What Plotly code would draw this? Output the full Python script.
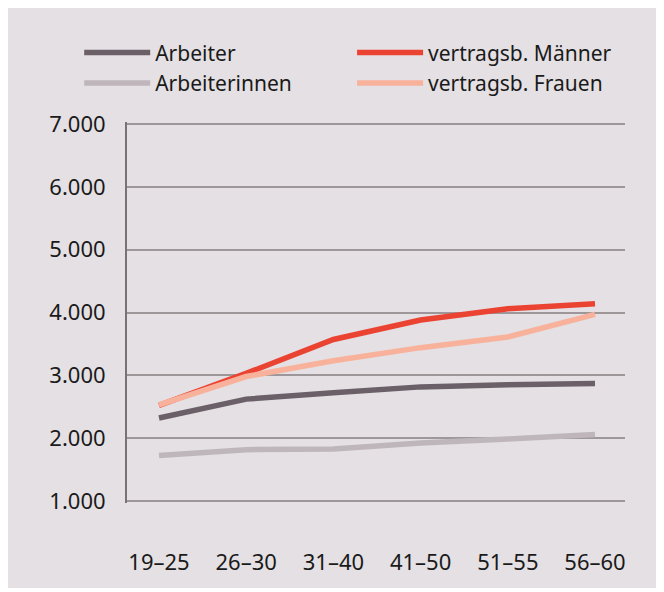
import plotly.graph_objects as go

age_groups = ["19–25", "26–30", "31–40", "41–50", "51–55", "56–60"]
arbeiter = [2320, 2620, 2720, 2815, 2850, 2870]
arbeiterinnen = [1720, 1815, 1825, 1920, 1985, 2055]
vb_maenner = [2520, 3030, 3570, 3880, 4060, 4140]
vb_frauen = [2530, 2980, 3230, 3440, 3610, 3970]
y_ticks = [1000, 2000, 3000, 4000, 5000, 6000, 7000]
y_labels = ["1.000", "2.000", "3.000", "4.000", "5.000", "6.000", "7.000"]

BG = "#e4e0e3"
FONT = "Noto Sans"
TXT = "#1a1a1a"

# (name, values, colour, legend, rank) in drawing order
series = [
    ("Arbeiterinnen", arbeiterinnen, "#bfb6bc", "legend", 2),
    ("Arbeiter", arbeiter, "#6b6068", "legend", 1),
    ("vertragsb. Männer", vb_maenner, "#ea4332", "legend2", 1),
    ("vertragsb. Frauen", vb_frauen, "#f8b29c", "legend2", 2),
]

fig = go.Figure()
for name, vals, col, leg, rank in series:
    fig.add_trace(go.Scatter(
        x=list(range(len(age_groups))), y=vals,
        mode="lines", name=name,
        line=dict(color=col, width=5.5),
        legend=leg, legendrank=rank,
    ))

legend_style = dict(
    orientation="v", y=1.235, xanchor="left", yanchor="top",
    itemwidth=66, traceorder="normal", tracegroupgap=0,
    font=dict(family=FONT, size=21, color=TXT),
    bgcolor="rgba(0,0,0,0)",
)

fig.update_layout(
    width=649, height=580,
    margin=dict(l=119, r=32, t=114, b=85, autoexpand=False),
    paper_bgcolor=BG, plot_bgcolor=BG,
    font=dict(family=FONT, size=22, color=TXT),
    showlegend=True,
    legend=dict(x=-0.096, **legend_style),
    legend2=dict(x=0.452, **legend_style),
)

fig.update_xaxes(
    range=[-0.367, 5.344],
    tickmode="array",
    tickvals=list(range(len(age_groups))),
    ticktext=age_groups,
    showgrid=False, zeroline=False, showline=False,
    ticks="", ticklabelstandoff=44,
    tickfont=dict(family=FONT, size=22, color=TXT),
)
# range padded a little so the 1.000 and 7.000 grid lines are not clipped
fig.update_yaxes(
    range=[965, 7035],
    tickmode="array", tickvals=y_ticks, ticktext=y_labels,
    showgrid=True, gridcolor="#9d979a", gridwidth=1.5,
    zeroline=False,
    showline=True, linecolor="#7a7075", linewidth=2,
    ticks="", ticklabelstandoff=15,
    tickfont=dict(family=FONT, size=22, color=TXT),
)

fig.write_html("out.html")
